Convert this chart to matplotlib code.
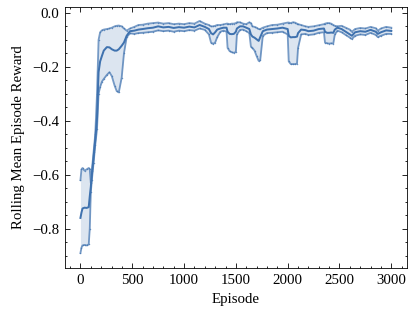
import numpy as np
import matplotlib.pyplot as plt
from matplotlib.ticker import MultipleLocator

# Rolling mean episode reward (mean and band edges)
episodes = [0, 10, 20, 40, 60, 80, 90, 100, 110, 127, 143, 160, 175, 190, 207,
            225, 255, 280, 303, 330, 350, 370, 398, 420, 446, 478, 520, 560,
            600, 650, 700, 750, 800, 850, 900, 950, 1000, 1050, 1100, 1150,
            1200, 1240, 1260, 1280, 1300, 1320, 1350, 1380, 1410, 1420, 1440,
            1460, 1480, 1500, 1510, 1540, 1570, 1600, 1630, 1645, 1660, 1680,
            1700, 1720, 1735, 1760, 1800, 1850, 1900, 1950, 2000, 2010, 2030,
            2050, 2070, 2090, 2100, 2130, 2170, 2200, 2250, 2300, 2350, 2360,
            2380, 2400, 2420, 2440, 2455, 2480, 2520, 2560, 2600, 2620, 2650,
            2700, 2750, 2800, 2850, 2870, 2900, 2950, 3000]

mean_reward = [-0.76, -0.74, -0.725, -0.722, -0.723, -0.72, -0.68, -0.645, -0.60,
               -0.535, -0.47, -0.39, -0.22, -0.18, -0.16, -0.14, -0.127, -0.128,
               -0.135, -0.14, -0.14, -0.135, -0.122, -0.11, -0.085, -0.068,
               -0.066, -0.062, -0.06, -0.057, -0.055, -0.05, -0.054, -0.052,
               -0.056, -0.053, -0.055, -0.051, -0.054, -0.045, -0.052, -0.06,
               -0.075, -0.08, -0.072, -0.062, -0.058, -0.055, -0.055, -0.07,
               -0.078, -0.079, -0.078, -0.07, -0.058, -0.05, -0.05, -0.055,
               -0.06, -0.08, -0.088, -0.092, -0.098, -0.104, -0.09, -0.068,
               -0.062, -0.06, -0.058, -0.055, -0.06, -0.085, -0.091, -0.09,
               -0.09, -0.088, -0.075, -0.062, -0.064, -0.068, -0.066, -0.06,
               -0.058, -0.07, -0.074, -0.074, -0.073, -0.074, -0.062, -0.055,
               -0.06, -0.07, -0.08, -0.085, -0.072, -0.068, -0.07, -0.063,
               -0.07, -0.078, -0.072, -0.065, -0.067]

upper_reward = [-0.62, -0.58, -0.575, -0.585, -0.58, -0.575, -0.58, -0.63, -0.585,
                -0.515, -0.45, -0.3, -0.10, -0.072, -0.065, -0.062, -0.06, -0.058,
                -0.055, -0.05, -0.048, -0.047, -0.05, -0.058, -0.066, -0.058,
                -0.052, -0.045, -0.044, -0.04, -0.038, -0.036, -0.04, -0.038,
                -0.042, -0.04, -0.042, -0.038, -0.04, -0.03, -0.04, -0.045,
                -0.05, -0.05, -0.048, -0.045, -0.045, -0.043, -0.04, -0.04,
                -0.042, -0.04, -0.04, -0.038, -0.035, -0.035, -0.04, -0.042,
                -0.035, -0.038, -0.05, -0.052, -0.055, -0.06, -0.06, -0.055,
                -0.05, -0.045, -0.044, -0.04, -0.036, -0.036, -0.038, -0.035,
                -0.036, -0.04, -0.042, -0.045, -0.05, -0.052, -0.05, -0.046,
                -0.042, -0.04, -0.038, -0.038, -0.04, -0.045, -0.048, -0.05,
                -0.048, -0.055, -0.062, -0.07, -0.06, -0.056, -0.058, -0.052,
                -0.057, -0.066, -0.058, -0.052, -0.055]

lower_reward = [-0.89, -0.87, -0.862, -0.86, -0.862, -0.858, -0.8, -0.665, -0.62,
                -0.555, -0.49, -0.43, -0.30, -0.275, -0.255, -0.245, -0.23, -0.22,
                -0.235, -0.27, -0.29, -0.295, -0.24, -0.15, -0.09, -0.076,
                -0.078, -0.075, -0.074, -0.072, -0.07, -0.065, -0.068, -0.066,
                -0.07, -0.066, -0.068, -0.064, -0.066, -0.058, -0.063, -0.08,
                -0.11, -0.115, -0.11, -0.09, -0.07, -0.066, -0.07, -0.13,
                -0.142, -0.146, -0.148, -0.145, -0.08, -0.063, -0.062, -0.068,
                -0.075, -0.125, -0.13, -0.14, -0.16, -0.178, -0.175, -0.085,
                -0.075, -0.074, -0.072, -0.07, -0.08, -0.18, -0.19, -0.19,
                -0.19, -0.188, -0.13, -0.08, -0.078, -0.082, -0.08, -0.074,
                -0.072, -0.11, -0.113, -0.114, -0.113, -0.114, -0.08, -0.066,
                -0.072, -0.082, -0.092, -0.097, -0.085, -0.08, -0.082, -0.074,
                -0.082, -0.09, -0.085, -0.078, -0.078]

plt.rcParams['font.family'] = ['Liberation Serif', 'DejaVu Serif']
plt.rcParams['font.size'] = 9
plt.rcParams['mathtext.fontset'] = 'stix'

color = '#3f72af'

fig = plt.figure(figsize=(416 / 119, 314 / 119), dpi=119)
ax = fig.add_axes([0.156, 0.147, 0.822, 0.831])

ax.fill_between(episodes, lower_reward, upper_reward, color=color, alpha=0.18, lw=0)
for edge in (upper_reward, lower_reward):
    ax.plot(episodes, edge, color=color, lw=1.1, alpha=0.7,
            marker='.', markersize=1.8, markeredgewidth=0)
ax.plot(episodes, mean_reward, color=color, lw=1.2)

ax.set_xlabel('Episode')
ax.set_ylabel('Rolling Mean Episode Reward')
ax.set_ylim(-0.945, 0.022)

ax.xaxis.set_major_locator(MultipleLocator(500))
ax.xaxis.set_minor_locator(MultipleLocator(100))
ax.yaxis.set_major_locator(MultipleLocator(0.2))
ax.yaxis.set_minor_locator(MultipleLocator(0.05))
ax.tick_params(which='both', direction='in', top=True, right=True)
ax.tick_params(which='major', length=3, width=0.5)
ax.tick_params(which='minor', length=1.5, width=0.5)
for s in ax.spines.values():
    s.set_linewidth(0.5)

fig.savefig('out.png', dpi=119)
